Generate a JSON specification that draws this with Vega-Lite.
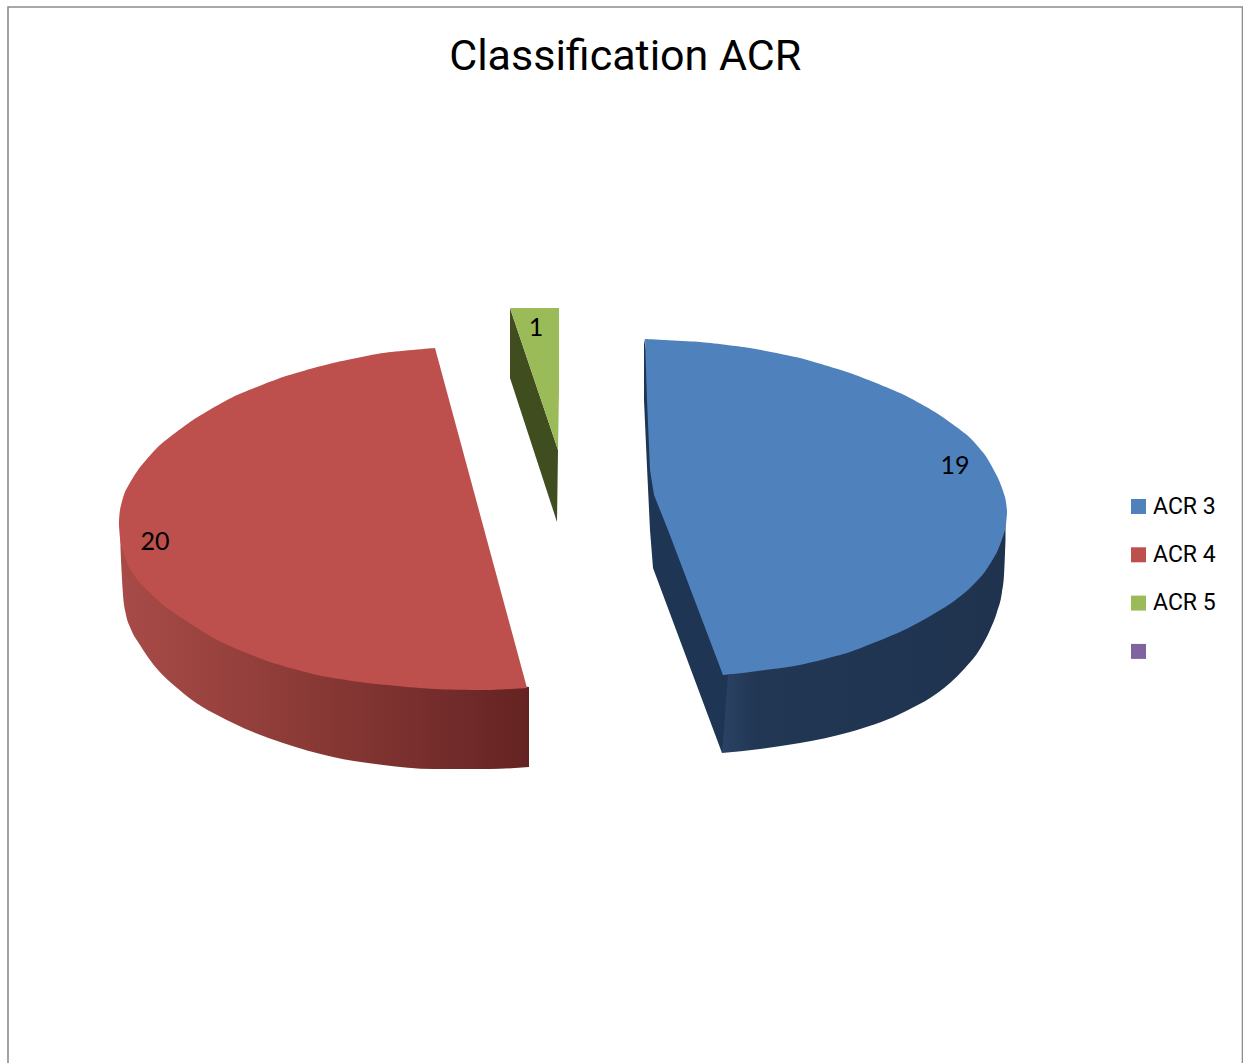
{
  "$schema": "https://vega.github.io/schema/vega-lite/v6.json",
  "autosize": {"type": "none"},
  "padding": {"left": 8, "top": 7, "right": 0, "bottom": 0},
  "width": 1234.5,
  "height": 1060,
  "background": "white",
  "config": {"view": {"stroke": "#8c8c8c", "strokeWidth": 1.6}},
  "title": {
    "text": "Classification ACR",
    "font": "Roboto",
    "fontSize": 43,
    "fontWeight": "normal",
    "color": "#000000",
    "anchor": "middle",
    "frame": "group",
    "baseline": "alphabetic",
    "offset": -106
  },
  "datasets": {
    "faces": [
      {"slice": "ACR 3", "step": 1, "x": 645, "y": 339},
      {"slice": "ACR 3", "step": 2, "x": 700, "y": 342},
      {"slice": "ACR 3", "step": 3, "x": 750, "y": 348},
      {"slice": "ACR 3", "step": 4, "x": 800, "y": 358},
      {"slice": "ACR 3", "step": 5, "x": 850, "y": 373},
      {"slice": "ACR 3", "step": 6, "x": 900, "y": 393},
      {"slice": "ACR 3", "step": 7, "x": 935, "y": 412},
      {"slice": "ACR 3", "step": 8, "x": 967, "y": 435},
      {"slice": "ACR 3", "step": 9, "x": 985, "y": 455},
      {"slice": "ACR 3", "step": 10, "x": 998, "y": 478},
      {"slice": "ACR 3", "step": 11, "x": 1005, "y": 497},
      {"slice": "ACR 3", "step": 12, "x": 1007, "y": 512},
      {"slice": "ACR 3", "step": 13, "x": 1005, "y": 530},
      {"slice": "ACR 3", "step": 14, "x": 997, "y": 552},
      {"slice": "ACR 3", "step": 15, "x": 984, "y": 573},
      {"slice": "ACR 3", "step": 16, "x": 968, "y": 590},
      {"slice": "ACR 3", "step": 17, "x": 950, "y": 604},
      {"slice": "ACR 3", "step": 18, "x": 925, "y": 619},
      {"slice": "ACR 3", "step": 19, "x": 900, "y": 632},
      {"slice": "ACR 3", "step": 20, "x": 850, "y": 652},
      {"slice": "ACR 3", "step": 21, "x": 800, "y": 665},
      {"slice": "ACR 3", "step": 22, "x": 750, "y": 672},
      {"slice": "ACR 3", "step": 23, "x": 723, "y": 675},

      {"slice": "ACR 4", "step": 1, "x": 527, "y": 688},
      {"slice": "ACR 4", "step": 2, "x": 490, "y": 690},
      {"slice": "ACR 4", "step": 3, "x": 433, "y": 689},
      {"slice": "ACR 4", "step": 4, "x": 367, "y": 683},
      {"slice": "ACR 4", "step": 5, "x": 317, "y": 675},
      {"slice": "ACR 4", "step": 6, "x": 267, "y": 661},
      {"slice": "ACR 4", "step": 7, "x": 217, "y": 640},
      {"slice": "ACR 4", "step": 8, "x": 167, "y": 608},
      {"slice": "ACR 4", "step": 9, "x": 140, "y": 583},
      {"slice": "ACR 4", "step": 10, "x": 128, "y": 565},
      {"slice": "ACR 4", "step": 11, "x": 121, "y": 545},
      {"slice": "ACR 4", "step": 12, "x": 119, "y": 525},
      {"slice": "ACR 4", "step": 13, "x": 120, "y": 510},
      {"slice": "ACR 4", "step": 14, "x": 125, "y": 492},
      {"slice": "ACR 4", "step": 15, "x": 138, "y": 470},
      {"slice": "ACR 4", "step": 16, "x": 160, "y": 445},
      {"slice": "ACR 4", "step": 17, "x": 193, "y": 420},
      {"slice": "ACR 4", "step": 18, "x": 233, "y": 397},
      {"slice": "ACR 4", "step": 19, "x": 283, "y": 377},
      {"slice": "ACR 4", "step": 20, "x": 333, "y": 363},
      {"slice": "ACR 4", "step": 21, "x": 383, "y": 353},
      {"slice": "ACR 4", "step": 22, "x": 435, "y": 348},

      {"slice": "ACR 5", "step": 1, "x": 510, "y": 308},
      {"slice": "ACR 5", "step": 2, "x": 559, "y": 308},
      {"slice": "ACR 5", "step": 3, "x": 559, "y": 390},
      {"slice": "ACR 5", "step": 4, "x": 558, "y": 450}
    ],
    "facets": [
      {"piece": "blue edge", "step": 1, "x": 645, "y": 339},
      {"piece": "blue edge", "step": 2, "x": 647, "y": 400},
      {"piece": "blue edge", "step": 3, "x": 650, "y": 470},
      {"piece": "blue edge", "step": 4, "x": 654, "y": 495},
      {"piece": "blue edge", "step": 5, "x": 668, "y": 530},
      {"piece": "blue edge", "step": 6, "x": 723, "y": 675},
      {"piece": "blue edge", "step": 7, "x": 750, "y": 500},

      {"piece": "blue cut", "step": 1, "x": 644, "y": 339},
      {"piece": "blue cut", "step": 2, "x": 644, "y": 400},
      {"piece": "blue cut", "step": 3, "x": 647, "y": 467},
      {"piece": "blue cut", "step": 4, "x": 650, "y": 530},
      {"piece": "blue cut", "step": 5, "x": 653, "y": 568},
      {"piece": "blue cut", "step": 6, "x": 722, "y": 753},
      {"piece": "blue cut", "step": 7, "x": 728, "y": 675},
      {"piece": "blue cut", "step": 8, "x": 680, "y": 530},

      {"piece": "green cut", "step": 1, "x": 510, "y": 308},
      {"piece": "green cut", "step": 2, "x": 558, "y": 450},
      {"piece": "green cut", "step": 3, "x": 557, "y": 522},
      {"piece": "green cut", "step": 4, "x": 510, "y": 378}
    ],
    "rims": [
      {"slice": "ACR 3", "x": 722, "rim": 665, "base": 753},
      {"slice": "ACR 3", "x": 760, "rim": 660, "base": 749},
      {"slice": "ACR 3", "x": 800, "rim": 655, "base": 743},
      {"slice": "ACR 3", "x": 850, "rim": 640, "base": 732},
      {"slice": "ACR 3", "x": 900, "rim": 620, "base": 714},
      {"slice": "ACR 3", "x": 950, "rim": 595, "base": 683},
      {"slice": "ACR 3", "x": 965, "rim": 585, "base": 668},
      {"slice": "ACR 3", "x": 980, "rim": 570, "base": 649},
      {"slice": "ACR 3", "x": 990, "rim": 555, "base": 630},
      {"slice": "ACR 3", "x": 997, "rim": 545, "base": 612},
      {"slice": "ACR 3", "x": 1002, "rim": 530, "base": 592},
      {"slice": "ACR 3", "x": 1004, "rim": 525, "base": 575},
      {"slice": "ACR 3", "x": 1005.5, "rim": 520, "base": 540},

      {"slice": "ACR 4", "x": 120.5, "rim": 530, "base": 548},
      {"slice": "ACR 4", "x": 121.5, "rim": 530, "base": 570},
      {"slice": "ACR 4", "x": 123, "rim": 535, "base": 595},
      {"slice": "ACR 4", "x": 126, "rim": 545, "base": 615},
      {"slice": "ACR 4", "x": 130, "rim": 555, "base": 627},
      {"slice": "ACR 4", "x": 140, "rim": 570, "base": 645},
      {"slice": "ACR 4", "x": 150, "rim": 580, "base": 660},
      {"slice": "ACR 4", "x": 183, "rim": 605, "base": 693},
      {"slice": "ACR 4", "x": 233, "rim": 635, "base": 723},
      {"slice": "ACR 4", "x": 283, "rim": 655, "base": 743},
      {"slice": "ACR 4", "x": 333, "rim": 670, "base": 757},
      {"slice": "ACR 4", "x": 383, "rim": 678, "base": 765},
      {"slice": "ACR 4", "x": 433, "rim": 682, "base": 769},
      {"slice": "ACR 4", "x": 490, "rim": 684, "base": 769},
      {"slice": "ACR 4", "x": 529, "rim": 687, "base": 767}
    ],
    "slices": [
      {"slice": "ACR 3", "count": 19, "labelX": 955, "labelY": 466},
      {"slice": "ACR 4", "count": 20, "labelX": 155, "labelY": 542},
      {"slice": "ACR 5", "count": 1, "labelX": 536, "labelY": 328}
    ]
  },
  "layer": [
    {
      "data": {"name": "rims"},
      "transform": [{"filter": "datum.slice === 'ACR 4'"}],
      "mark": {
        "type": "area", "interpolate": "monotone",
        "color": {
          "gradient": "linear", "x1": 0, "y1": 0, "x2": 1, "y2": 0,
          "stops": [
            {"offset": 0, "color": "#a84b48"},
            {"offset": 0.45, "color": "#8b3a36"},
            {"offset": 0.8, "color": "#732c2b"},
            {"offset": 1, "color": "#642322"}
          ]
        }
      },
      "encoding": {
        "x": {"field": "x", "type": "quantitative", "scale": {"domain": [8, 1242.5], "nice": false, "zero": false}, "axis": null},
        "y": {"field": "rim", "type": "quantitative", "scale": {"domain": [1067, 7], "nice": false, "zero": false}, "axis": null},
        "y2": {"field": "base"}
      }
    },
    {
      "data": {"name": "rims"},
      "transform": [{"filter": "datum.slice === 'ACR 3'"}],
      "mark": {
        "type": "area", "interpolate": "monotone",
        "color": {
          "gradient": "linear", "x1": 0, "y1": 0, "x2": 1, "y2": 0,
          "stops": [
            {"offset": 0, "color": "#2b4266"},
            {"offset": 0.12, "color": "#213753"},
            {"offset": 1, "color": "#1f334f"}
          ]
        }
      },
      "encoding": {
        "x": {"field": "x", "type": "quantitative"},
        "y": {"field": "rim", "type": "quantitative"},
        "y2": {"field": "base"}
      }
    },
    {
      "data": {"name": "facets"},
      "transform": [{"filter": "datum.piece === 'blue cut'"}],
      "mark": {"type": "line", "filled": true, "strokeWidth": 0, "color": "#1e3554"},
      "encoding": {
        "x": {"field": "x", "type": "quantitative"},
        "y": {"field": "y", "type": "quantitative"},
        "order": {"field": "step"}
      }
    },
    {
      "data": {"name": "facets"},
      "transform": [{"filter": "datum.piece === 'green cut'"}],
      "mark": {"type": "line", "filled": true, "strokeWidth": 0, "color": "#3f4d1f"},
      "encoding": {
        "x": {"field": "x", "type": "quantitative"},
        "y": {"field": "y", "type": "quantitative"},
        "order": {"field": "step"}
      }
    },
    {
      "data": {"name": "facets"},
      "transform": [{"filter": "datum.piece === 'blue edge'"}],
      "mark": {"type": "line", "filled": true, "strokeWidth": 0, "color": "#4f81bd"},
      "encoding": {
        "x": {"field": "x", "type": "quantitative"},
        "y": {"field": "y", "type": "quantitative"},
        "order": {"field": "step"}
      }
    },
    {
      "data": {"name": "faces"},
      "mark": {"type": "line", "filled": true, "strokeWidth": 0, "interpolate": "cardinal", "tension": 0.4},
      "transform": [{"filter": "datum.slice !== 'ACR 5'"}],
      "encoding": {
        "x": {"field": "x", "type": "quantitative"},
        "y": {"field": "y", "type": "quantitative"},
        "order": {"field": "step"},
        "color": {
          "field": "slice",
          "type": "nominal",
          "scale": {
            "domain": ["ACR 3", "ACR 4", "ACR 5", " "],
            "range": ["#4f81bd", "#bd4f4c", "#9bbb59", "#8064a2"]
          },
          "legend": {
            "title": null,
            "orient": "none",
            "legendX": 1119,
            "legendY": 488,
            "padding": 0,
            "symbolType": "square",
            "symbolSize": 225,
            "symbolStrokeWidth": 0,
            "labelFont": "Roboto",
            "labelFontSize": 23,
            "labelColor": "#000000",
            "labelOffset": 3,
            "labelLimit": 200,
            "rowPadding": 24.3
          }
        }
      }
    },
    {
      "data": {"name": "faces"},
      "mark": {"type": "line", "filled": true, "strokeWidth": 0},
      "transform": [{"filter": "datum.slice === 'ACR 5'"}],
      "encoding": {
        "x": {"field": "x", "type": "quantitative"},
        "y": {"field": "y", "type": "quantitative"},
        "order": {"field": "step"},
        "color": {"field": "slice", "type": "nominal"}
      }
    },
    {
      "data": {"name": "slices"},
      "mark": {"type": "text", "font": "Lato", "fontSize": 25, "color": "#000000", "align": "center", "baseline": "middle"},
      "encoding": {
        "x": {"field": "labelX", "type": "quantitative"},
        "y": {"field": "labelY", "type": "quantitative"},
        "text": {"field": "count", "type": "quantitative"}
      }
    }
  ]
}
